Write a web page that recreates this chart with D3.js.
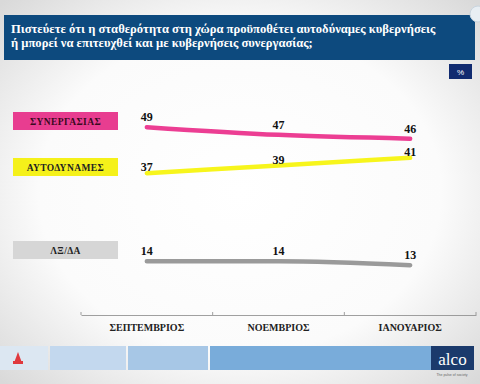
<!DOCTYPE html>
<html>
<head>
<meta charset="utf-8">
<script src="https://cdn.jsdelivr.net/npm/d3@7"></script>
<style>
  html, body { margin: 0; padding: 0; background: #fff; }
  svg { display: block; }
  .serif { font-family: "Liberation Serif", "DejaVu Serif", serif; font-weight: bold; }
</style>
</head>
<body>
<svg id="chart" width="480" height="384"></svg>
<script>
// data
var months = ["ΣΕΠΤΕΜΒΡΙΟΣ", "ΝΟΕΜΒΡΙΟΣ", "ΙΑΝΟΥΑΡΙΟΣ"];
var seriesNames = ["ΣΥΝΕΡΓΑΣΙΑΣ", "ΑΥΤΟΔΥΝΑΜΕΣ", "ΛΞ/ΔΑ"];
var synergasias = [49, 47, 46];
var aftodynames = [37, 39, 41];
var dkna = [14, 14, 13];
var titleLines = [
  "Πιστεύετε ότι η σταθερότητα στη χώρα προϋποθέτει αυτοδύναμες κυβερνήσεις",
  "ή μπορεί να επιτευχθεί και με κυβερνήσεις συνεργασίας;"
];

var W = 480, H = 384;
var svg = d3.select("#chart");

// background vignette
var defs = svg.append("defs");
var rg = defs.append("radialGradient").attr("id", "bg")
  .attr("cx", "50%").attr("cy", "50%").attr("r", "70%");
rg.append("stop").attr("offset", "0%").attr("stop-color", "#ffffff");
rg.append("stop").attr("offset", "60%").attr("stop-color", "#fbfbfb");
rg.append("stop").attr("offset", "100%").attr("stop-color", "#d9d9d9");
svg.append("rect").attr("width", W).attr("height", H).attr("fill", "url(#bg)");

// title box
svg.append("rect").attr("x", 4).attr("y", 15).attr("width", 471).attr("height", 45)
  .attr("fill", "#0d4a7e");
svg.selectAll(".title").data(titleLines).enter().append("text")
  .attr("class", "serif title")
  .attr("x", 11).attr("y", function(d, i) { return 33 + i * 14; })
  .attr("fill", "#fff").style("font-size", "12.6px")
  .text(function(d) { return d; });

// small icon top right
svg.append("circle").attr("cx", 478).attr("cy", 14).attr("r", 8)
  .attr("fill", "#e8eef3").attr("stroke", "#c8d4de");

// % box
svg.append("rect").attr("x", 449).attr("y", 64).attr("width", 23).attr("height", 15)
  .attr("fill", "#112b70");
svg.append("text").attr("x", 460.5).attr("y", 75).attr("text-anchor", "middle")
  .attr("fill", "#fff").style("font-size", "8px").style("font-family", "Arial, sans-serif")
  .text("%");

// scales
var x = d3.scaleBand().domain(months).range([81, 476]);
var y = d3.scaleLinear().domain([0, 60]).range([315, 85]);

var series = [
  { name: seriesNames[0], values: synergasias, color: "#ec3e93", box: "#e83d90", text: "#3a0a20", boxY: 112, dy: -6 },
  { name: seriesNames[1], values: aftodynames, color: "#f7f51c", box: "#f5f11a", text: "#222", boxY: 158, dy: -2 },
  { name: seriesNames[2], values: dkna, color: "#9a9a9a", box: "#d6d6d6", text: "#222", boxY: 241, dy: -6 }
];

// x axis
var axis = svg.append("g").attr("transform", "translate(0,315)")
  .call(d3.axisTop(x).tickValues([]).tickSizeOuter(0));
axis.select(".domain").attr("stroke", "#888").attr("stroke-width", 0.8);
var tickPos = [81].concat(months.map(function(m) { return x(m) + x.bandwidth(); }));
axis.selectAll(".tk").data(tickPos).enter().append("line")
  .attr("x1", function(d) { return d; }).attr("x2", function(d) { return d; })
  .attr("y1", 0).attr("y2", -3).attr("stroke", "#888").attr("stroke-width", 0.8);

svg.selectAll(".month").data(months).enter().append("text")
  .attr("class", "serif month")
  .attr("x", function(d) { return x(d) + x.bandwidth() / 2; })
  .attr("y", 331).attr("text-anchor", "middle")
  .attr("fill", "#222").style("font-size", "10px")
  .text(function(d) { return d; });

// lines
var line = d3.line()
  .x(function(d, i) { return x(months[i]) + x.bandwidth() / 2; })
  .y(function(d) { return y(d); })
  .curve(d3.curveMonotoneX);

series.forEach(function(s) {
  // legend box
  svg.append("rect").attr("x", 13).attr("y", s.boxY).attr("width", 105).attr("height", 18)
    .attr("fill", s.box);
  svg.append("text").attr("class", "serif")
    .attr("x", 65.5).attr("y", s.boxY + 12.5).attr("text-anchor", "middle")
    .attr("fill", s.text).style("font-size", "9.5px").style("letter-spacing", "0.4px")
    .text(s.name);

  svg.append("path").datum(s.values)
    .attr("d", line)
    .attr("fill", "none").attr("stroke", s.color)
    .attr("stroke-width", 4.5).attr("stroke-linecap", "round");

  svg.selectAll(null).data(s.values).enter().append("text")
    .attr("class", "serif")
    .attr("x", function(d, i) { return x(months[i]) + x.bandwidth() / 2; })
    .attr("y", function(d) { return y(d) + s.dy; })
    .attr("text-anchor", "middle")
    .attr("fill", "#111").style("font-size", "12px")
    .text(function(d) { return d; });
});

// footer band
var footer = [
  { x: 0, w: 48, c: "#dce7f2" },
  { x: 50, w: 76, c: "#c3d8ee" },
  { x: 128, w: 80, c: "#a7c7e6" },
  { x: 210, w: 221, c: "#79acda" }
];
svg.selectAll(".ft").data(footer).enter().append("rect")
  .attr("x", function(d) { return d.x; }).attr("y", 346)
  .attr("width", function(d) { return d.w; }).attr("height", 24)
  .attr("fill", function(d) { return d.c; });

// red logo
svg.append("path").attr("d", "M14,363 L18,352 L22,363 Z").attr("fill", "#e0393e");
svg.append("rect").attr("x", 13).attr("y", 361).attr("width", 10).attr("height", 3).attr("fill", "#e0393e");

// alco logo
svg.append("rect").attr("x", 431).attr("y", 346).attr("width", 43).attr("height", 24)
  .attr("fill", "#1b3a6c");
svg.append("text").attr("x", 452.5).attr("y", 365).attr("text-anchor", "middle")
  .attr("fill", "#fff").style("font-size", "17px")
  .style("font-family", "'Liberation Serif', serif").text("alco");
svg.append("text").attr("x", 452).attr("y", 376).attr("text-anchor", "middle")
  .attr("fill", "#666").style("font-size", "3.5px")
  .style("font-family", "Arial, sans-serif").text("The pulse of society");
</script>
</body>
</html>
